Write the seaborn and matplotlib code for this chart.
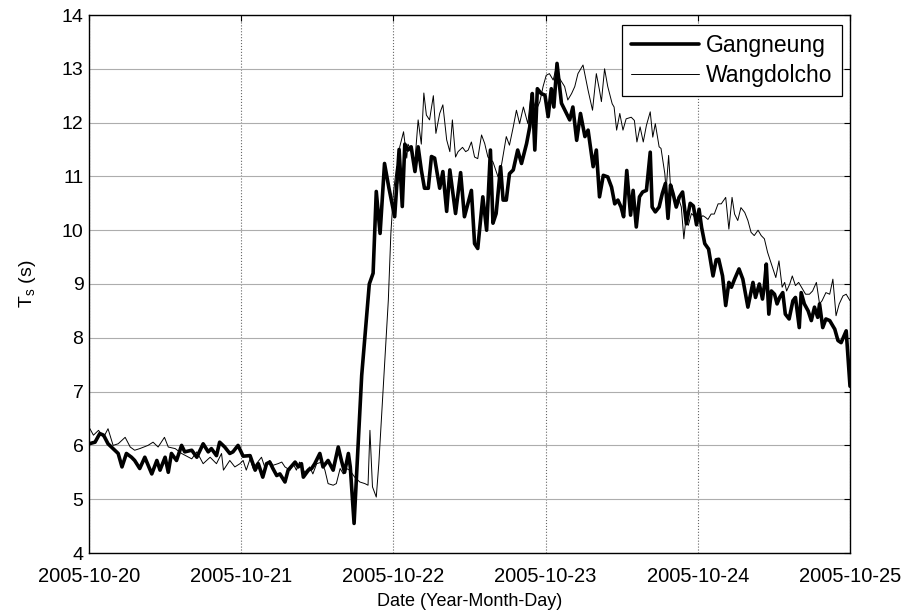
import numpy as np
import pandas as pd
import matplotlib
matplotlib.use("Agg")
import matplotlib.pyplot as plt
import matplotlib.dates as mdates
import seaborn as sns

# ---- data (hours since 2005-10-20 00:00, Ts in seconds) ----
g_hours = [0.0, 0.95, 1.7, 2.3, 3.0, 4.6, 5.2, 5.9, 6.7, 7.2, 8.0, 8.8, 9.9, 10.7, 11.2, 12.0, 12.5, 13.0,
           13.8, 14.6, 15.1, 16.2, 17.0, 18.0, 18.8, 19.3, 20.1, 20.6, 21.4, 22.2, 22.7, 23.5, 24.3, 25.4,
           26.2, 26.7, 27.4, 28.0, 28.5, 29.0, 29.6, 30.1, 30.9, 31.4, 32.5, 33.0, 33.5, 33.8, 34.6, 35.1,
           35.6, 36.4, 36.9, 37.7, 38.5, 39.3, 39.8, 40.3, 40.9, 41.2, 41.8, 43.0, 44.2, 44.8, 45.3, 45.9,
           46.6, 47.3, 48.2, 48.9, 49.4, 49.8, 50.3, 50.8, 51.4, 51.9, 52.4, 52.9, 53.5, 54.0, 54.5, 55.3,
           55.8, 56.4, 56.9, 57.8, 58.6, 59.2, 60.3, 60.8, 61.3, 62.1, 62.7, 63.3, 63.7, 64.2, 64.9, 65.3,
           65.8, 66.3, 66.9, 67.6, 68.2, 69.0, 69.5, 69.9, 70.3, 70.7, 71.3, 71.9, 72.4, 72.9, 73.3, 73.8,
           74.5, 75.3, 75.8, 76.3, 76.9, 77.5, 78.2, 78.7, 79.5, 80.0, 80.5, 81.1, 81.8, 82.4, 82.9, 83.4,
           83.9, 84.3, 84.8, 85.4, 85.8, 86.3, 86.8, 87.3, 87.9, 88.5, 88.8, 89.3, 89.9, 90.4, 90.9, 91.3,
           91.7, 92.1, 92.6, 93.1, 93.6, 94.2, 94.8, 95.3, 95.8, 96.2, 96.6, 97.1, 97.7, 98.4, 98.9, 99.3,
           99.9, 100.4, 100.9, 101.3, 101.8, 102.5, 103.1, 103.9, 104.7, 105.1, 105.7, 106.2, 106.5, 106.8,
           107.2, 107.6, 108.1, 108.5, 108.9, 109.4, 109.8, 110.4, 111.0, 111.4, 112.0, 112.3, 112.8, 113.4,
           113.9, 114.4, 114.9, 115.2, 115.7, 116.2, 116.8, 117.6, 118.1, 118.6, 119.4, 120.0]
g_values = [6.03, 6.06, 6.22, 6.19, 6.03, 5.85, 5.6, 5.85, 5.78, 5.72, 5.57, 5.78, 5.47, 5.72, 5.54, 5.78, 5.5, 5.85,
            5.72, 6.0, 5.88, 5.91, 5.78, 6.03, 5.88, 5.94, 5.81, 6.06, 5.97, 5.85, 5.88, 6.0, 5.8, 5.81,
            5.54, 5.66, 5.41, 5.66, 5.69, 5.57, 5.44, 5.47, 5.32, 5.54, 5.69, 5.6, 5.66, 5.41, 5.54, 5.57,
            5.66, 5.85, 5.6, 5.72, 5.54, 5.97, 5.72, 5.5, 5.85, 5.6, 4.55, 7.3, 9.0, 9.2, 10.72, 9.94,
            11.24, 10.78, 10.25, 11.5, 10.44, 11.6, 11.49, 11.55, 11.09, 11.55, 11.12, 10.78, 10.78, 11.37, 11.34, 10.78,
            11.09, 10.35, 11.12, 10.31, 11.07, 10.25, 10.74, 9.75, 9.66, 10.62, 10.0, 11.49, 10.13, 10.31, 11.18, 10.56,
            10.56, 11.05, 11.12, 11.49, 11.24, 11.61, 11.92, 12.54, 11.49, 12.63, 12.54, 12.51, 12.11, 12.63, 12.29, 13.1,
            12.36, 12.17, 12.05, 12.29, 11.67, 12.17, 11.74, 11.86, 11.18, 11.49, 10.62, 11.02, 10.99, 10.8, 10.49, 10.56,
            10.43, 10.25, 11.11, 10.28, 10.74, 10.06, 10.62, 10.71, 10.74, 11.45, 10.43, 10.34, 10.43, 10.68, 10.87, 10.22,
            10.84, 10.68, 10.43, 10.62, 10.71, 10.12, 10.5, 10.45, 10.1, 10.39, 10.05, 9.75, 9.65, 9.15, 9.45, 9.46,
            9.15, 8.6, 9.03, 8.94, 9.09, 9.28, 9.09, 8.57, 9.03, 8.75, 9.0, 8.72, 8.97, 9.37,
            8.44, 8.87, 8.81, 8.63, 8.75, 8.84, 8.44, 8.35, 8.69, 8.75, 8.19, 8.84, 8.63, 8.5,
            8.32, 8.57, 8.38, 8.63, 8.19, 8.35, 8.32, 8.16, 7.95, 7.91, 8.13, 7.1]

w_hours = [0.0, 0.7, 1.5, 2.3, 3.0, 3.8, 4.6, 5.7, 6.5, 7.2, 8.0, 9.3, 10.1, 10.9, 11.9, 12.5, 13.6, 14.6,
           16.2, 17.0, 18.0, 19.1, 20.1, 20.9, 21.2, 22.2, 23.0, 23.8, 24.3, 24.8, 25.4, 25.9, 26.4, 27.2,
           27.7, 28.5, 29.0, 29.8, 30.4, 30.9, 31.7, 32.2, 32.7, 33.2, 34.0, 34.8, 35.3, 35.9, 36.7, 37.2,
           37.7, 38.5, 39.0, 39.6, 40.1, 40.6, 41.1, 41.9, 42.7, 43.5, 44.0, 44.3, 44.7, 45.3, 45.7, 47.2,
           47.6, 48.0, 48.5, 48.7, 49.0, 49.6, 50.1, 50.3, 50.8, 51.4, 51.9, 52.4, 52.8, 53.2, 53.7, 54.3,
           54.7, 55.3, 55.8, 56.4, 56.9, 57.3, 57.8, 58.2, 58.9, 59.4, 59.8, 60.3, 60.8, 61.3, 61.9, 62.4,
           62.9, 63.7, 64.5, 65.0, 65.8, 66.3, 66.9, 67.4, 67.9, 68.5, 69.2, 69.7, 70.5, 71.1, 71.6, 72.1,
           72.6, 73.2, 73.7, 74.2, 75.0, 75.5, 76.1, 76.6, 77.1, 77.9, 78.7, 79.4, 80.0, 80.5, 80.8, 81.3,
           81.8, 82.5, 82.8, 83.2, 83.7, 84.2, 84.7, 85.5, 86.0, 86.4, 86.9, 87.4, 87.9, 88.5, 88.9, 89.3,
           89.9, 90.2, 90.8, 91.0, 91.4, 91.7, 92.1, 92.5, 92.9, 93.4, 93.8, 94.1, 94.5, 95.0, 95.5, 96.0,
           96.8, 97.2, 97.6, 98.1, 98.6, 99.2, 99.7, 100.4, 100.9, 101.4, 101.8, 102.3, 102.8, 103.4, 103.9,
           104.4, 104.9, 105.5, 106.0, 106.5, 107.0, 107.6, 108.3, 108.8, 109.3, 109.7, 110.0, 110.5, 110.9,
           111.4, 111.9, 112.5, 113.0, 113.6, 114.1, 114.7, 115.2, 115.6, 116.2, 116.8, 117.3, 117.8, 118.3,
           118.9, 119.4, 120.0]
w_values = [6.34, 6.19, 6.28, 6.15, 6.31, 6.0, 6.03, 6.15, 5.97, 5.91, 5.94, 6.0, 6.06, 5.97, 6.15, 5.97, 5.94, 5.85,
            5.75, 5.88, 5.66, 5.78, 5.66, 5.85, 5.54, 5.72, 5.6, 5.66, 5.72, 5.54, 5.75, 5.57, 5.66, 5.78,
            5.6, 5.72, 5.63, 5.66, 5.69, 5.6, 5.54, 5.66, 5.54, 5.69, 5.5, 5.6, 5.47, 5.66, 5.69, 5.54,
            5.29, 5.26, 5.29, 5.57, 5.47, 5.57, 5.54, 5.41, 5.32, 5.29, 5.26, 6.28, 5.23, 5.04, 5.66, 8.7,
            9.94, 10.69, 11.18, 10.87, 11.55, 11.83, 11.34, 11.6, 11.49, 11.3, 12.05, 11.6, 12.55, 12.14, 12.05, 12.5,
            11.8, 12.17, 12.33, 11.68, 11.46, 12.05, 11.36, 11.46, 11.54, 11.46, 11.49, 11.64, 11.36, 11.33, 11.77, 11.61,
            11.36, 11.27, 10.99, 11.18, 11.74, 11.58, 11.92, 12.23, 11.98, 12.29, 11.98, 12.54, 12.23, 12.39, 12.67, 12.88,
            12.91, 12.79, 13.04, 12.82, 12.67, 12.42, 12.54, 12.67, 12.91, 13.07, 12.6, 12.23, 12.91, 12.6, 12.39, 13.0,
            12.67, 12.35, 12.29, 11.86, 12.17, 11.86, 12.07, 12.1, 12.04, 11.64, 11.92, 11.64, 11.95, 12.2, 11.73, 11.98,
            11.55, 11.52, 11.05, 10.74, 11.39, 10.8, 10.68, 10.49, 10.62, 10.43, 9.84, 10.18, 10.09, 10.31, 10.25, 10.18,
            10.27, 10.24, 10.2, 10.3, 10.3, 10.49, 10.49, 10.61, 10.02, 10.61, 10.3, 10.18, 10.42, 10.33, 10.18,
            9.96, 9.9, 10.0, 9.9, 9.84, 9.59, 9.37, 9.12, 9.43, 8.94, 9.03, 8.87, 9.0, 9.15,
            8.97, 9.03, 8.91, 8.81, 8.81, 8.87, 9.03, 8.63, 8.69, 8.84, 8.81, 9.09, 8.41, 8.63,
            8.78, 8.81, 8.69]

series_names = ["Gangneung", "Wangdolcho"]
y_ticks = [4, 5, 6, 7, 8, 9, 10, 11, 12, 13, 14]

t0 = pd.Timestamp("2005-10-20")
df_g = pd.DataFrame({"time": t0 + pd.to_timedelta(g_hours, unit="h"), "Ts": g_values})
df_w = pd.DataFrame({"time": t0 + pd.to_timedelta(w_hours, unit="h"), "Ts": w_values})

sns.set_style("white")
plt.rcParams["font.family"] = ["Liberation Sans", "DejaVu Sans"]
plt.rcParams["text.color"] = "black"
plt.rcParams["axes.labelcolor"] = "black"

fig = plt.figure(figsize=(9.14, 6.13), dpi=100)
ax = fig.add_axes([89 / 914, 1 - 553 / 613, (850 - 89) / 914, (553 - 15) / 613])

sns.lineplot(data=df_g, x="time", y="Ts", ax=ax, color="black", lw=2.6,
             estimator=None, sort=True, label=series_names[0])
sns.lineplot(data=df_w, x="time", y="Ts", ax=ax, color="black", lw=0.7,
             estimator=None, sort=True, label=series_names[1])

ax.set_xlim(pd.Timestamp("2005-10-20"), pd.Timestamp("2005-10-25"))
ax.set_ylim(4, 14)
ax.set_yticks(y_ticks)
ax.xaxis.set_major_locator(mdates.DayLocator())
ax.xaxis.set_major_formatter(mdates.DateFormatter("%Y-%m-%d"))

ax.yaxis.grid(True, linestyle="-", color="0.68", lw=0.8)
ax.xaxis.grid(True, linestyle=":", color="0.4", lw=0.8)
ax.set_axisbelow(True)
ax.tick_params(direction="in", top=True, right=True, length=4, width=0.8, colors="black")
ax.tick_params(axis="x", labelsize=14.5, pad=10)
ax.tick_params(axis="y", labelsize=14, pad=4)
for s in ax.spines.values():
    s.set_visible(True)
    s.set_color("black")
    s.set_linewidth(1.0)

ax.set_xlabel("Date (Year-Month-Day)", fontsize=13, labelpad=5)
ax.set_ylabel(r"T$_\mathregular{s}$ (s)", fontsize=14, labelpad=17)

leg = ax.legend(loc="upper right", bbox_to_anchor=(0.9895, 0.981), borderaxespad=0,
                frameon=True, fancybox=False, framealpha=1, edgecolor="black",
                fontsize=16.5, handlelength=3.0, handletextpad=0.3, borderpad=0.4,
                labelspacing=0.3)
leg.get_frame().set_linewidth(0.9)

fig.savefig("out.png", dpi=100)
